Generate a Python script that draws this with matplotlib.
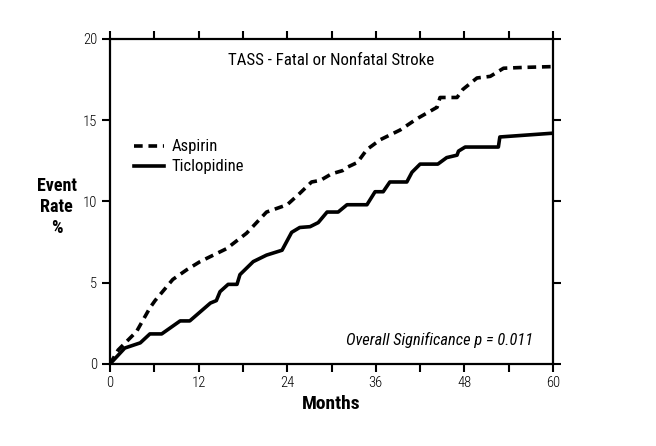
import numpy as np
import matplotlib.pyplot as plt

plt.rcParams['font.family'] = ['Roboto Condensed', 'DejaVu Sans']

# Curvas (meses, tasa de eventos %)
meses_asp = [0, 1.1, 3.6, 5.4, 6.1, 8.5, 10.4, 12.2, 14.9, 15.8, 18.5, 21.2, 24.0,
             25.7, 27.3, 28.5, 30.0, 31.5, 32.1, 33.5, 34.8, 36.6, 39.3, 41.6,
             44.3, 44.7, 47.0, 47.8, 49.7, 51.5, 53.3, 56.0, 59.9]
tasa_asp = [0, 0.86, 2.0, 3.45, 3.9, 5.2, 5.8, 6.3, 6.9, 7.1, 8.05, 9.35, 9.8,
            10.5, 11.2, 11.3, 11.7, 11.9, 12.1, 12.4, 13.2, 13.8, 14.4, 15.1,
            15.8, 16.4, 16.4, 16.9, 17.6, 17.7, 18.2, 18.25, 18.3]

meses_tic = [0, 2.0, 4.1, 5.4, 7.0, 9.5, 10.8, 13.6, 14.4, 14.9, 16.0, 17.2, 17.6,
             19.4, 21.2, 23.3, 24.6, 25.7, 27.1, 28.2, 29.4, 30.9, 32.1, 34.8,
             35.9, 37.0, 37.9, 40.2, 40.9, 42.0, 44.4, 45.6, 47.0, 47.2, 48.1,
             52.6, 52.8, 59.9]
tasa_tic = [0, 0.98, 1.3, 1.85, 1.85, 2.65, 2.65, 3.75, 3.9, 4.45, 4.9, 4.9, 5.5,
            6.3, 6.7, 7.0, 8.1, 8.4, 8.45, 8.7, 9.35, 9.35, 9.8, 9.8,
            10.6, 10.6, 11.2, 11.2, 11.8, 12.3, 12.3, 12.7, 12.85, 13.1, 13.35,
            13.35, 13.97, 14.2]

xticks = [0, 12, 24, 36, 48, 60]
yticks = [0, 5, 10, 15, 20]

fig = plt.figure(figsize=(6.56, 4.46), dpi=100)
ax = fig.add_axes([0.1677, 0.1839, 0.6753, 0.7287])

ax.plot(meses_asp, tasa_asp, color='k', lw=2.6, ls='--', dashes=(2.4, 1.6),
        label='Aspirin')
ax.plot(meses_tic, tasa_tic, color='k', lw=2.6, label='Ticlopidine')

ax.set_xlim(0, 60)
ax.set_ylim(0, 20)
ax.set_xticks(xticks)
ax.set_xticks(np.arange(6, 60, 12), minor=True)
ax.set_yticks(yticks)
ax.tick_params(which='both', direction='out', width=1.5, labelsize=10.5,
               top=True, right=True, length=6, pad=3)
for lab in ax.get_xticklabels() + ax.get_yticklabels():
    lab.set_fontweight('light')
for s in ax.spines.values():
    s.set_linewidth(1.6)

ax.set_xlabel('Months', fontsize=14, fontweight='bold', labelpad=3)
ax.set_ylabel('Event\nRate\n%', fontsize=13, fontweight='bold', rotation=0,
              ha='center', va='center', linespacing=1.2)
ax.yaxis.set_label_coords(-0.12, 0.483)

ax.text(0.5, 0.935, 'TASS - Fatal or Nonfatal Stroke', transform=ax.transAxes,
        ha='center', va='center', fontsize=12.2)
ax.text(0.955, 0.075, 'Overall Significance p = 0.011', transform=ax.transAxes,
        ha='right', va='center', fontsize=11.8, style='italic')

ax.legend(frameon=False, loc='upper left', bbox_to_anchor=(0.02, 0.737),
          fontsize=12, handlelength=1.8, handletextpad=0.45, labelspacing=0.3)

plt.savefig('out.png', dpi=100)
